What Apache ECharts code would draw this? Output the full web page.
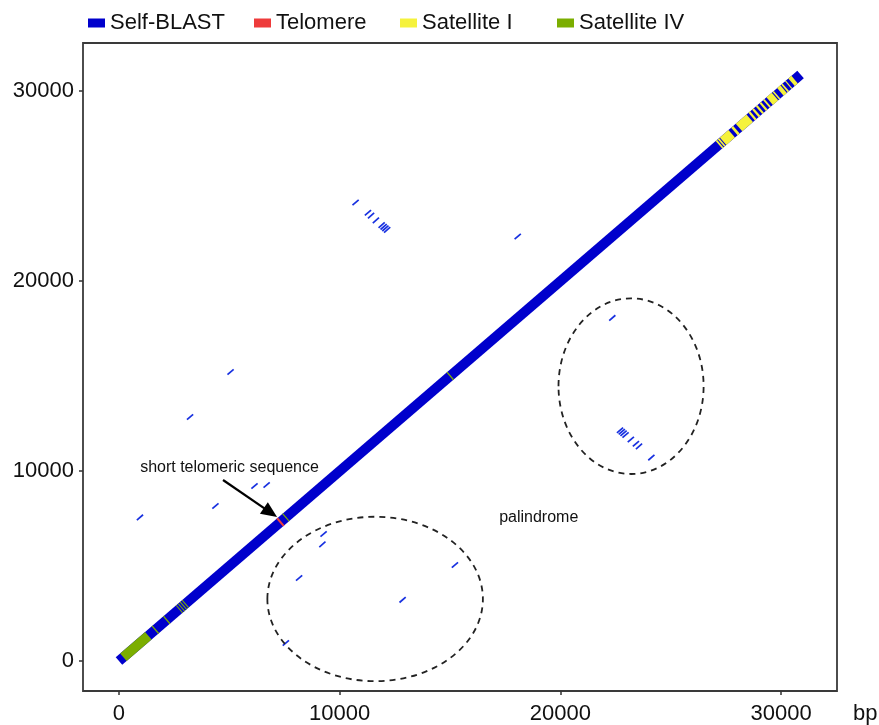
<!DOCTYPE html>
<html>
<head>
<meta charset="utf-8">
<script src="https://cdn.jsdelivr.net/npm/echarts@6/dist/echarts.min.js"></script>
<style>
  html, body { margin: 0; padding: 0; background: #fff; }
  #chart { width: 879px; height: 725px; }
</style>
</head>
<body>
<div id="chart"></div>
<script>
const FONT = '"Liberation Sans", Arial, Helvetica, sans-serif';

// Axis extents (bp) and labelled ticks
const xRange = [-1630, 32530];
const yRange = [-1580, 32540];
const tickValues = [0, 10000, 20000, 30000];
const xUnit = 'bp';

// Legend entries
const legendNames = ['Self-BLAST', 'Telomere', 'Satellite I', 'Satellite IV'];

// Whole sequence aligned against itself, [start, end] in bp
const selfBlastDiagonal = [[0, 30880]];

// Annotated intervals lying on the diagonal, [start, end] in bp
const telomereIntervals = [[7280, 7350]];
const satelliteIVIntervals = [
  [200, 1330], [1625, 1670], [2140, 2185],
  [2720, 2755], [2810, 2845], [2900, 2935], [2990, 3025],
  [7540, 7580], [14985, 15030]
];
const satelliteIIntervals = [
  [27180, 27240], [27275, 27335], [27370, 27760], [27880, 27975],
  [28090, 28575], [28665, 28741], [28831, 28908], [28998, 29073],
  [29163, 29239], [29329, 29390], [29480, 29720], [29760, 29815],
  [29965, 30110], [30150, 30210], [30320, 30360], [30470, 30610]
];

// Off-diagonal self-BLAST hits, [x1, y1, x2, y2] in bp
const repeatHits = [
  [10580, 24000, 10860, 24280],
  [11140, 23460, 11420, 23740],
  [11280, 23310, 11560, 23590],
  [11500, 23060, 11780, 23340],
  [11760, 22810, 12040, 23090],
  [11850, 22720, 12130, 23000],
  [11930, 22640, 12210, 22920],
  [12010, 22560, 12290, 22840],
  [17925, 22210, 18205, 22490],
  [4915, 15080, 5195, 15360],
  [3080, 12710, 3360, 12990],
  [6000, 9075, 6280, 9355],
  [6550, 9130, 6830, 9410],
  [4230, 8020, 4510, 8300],
  [810, 7420, 1090, 7700],
  [23980, 10570, 24260, 10850],
  [23280, 11300, 23560, 11580],
  [23420, 11160, 23700, 11440],
  [23050, 11520, 23330, 11800],
  [22560, 12010, 22840, 12290],
  [22640, 11930, 22920, 12210],
  [22720, 11850, 23000, 12130],
  [22810, 11760, 23090, 12040],
  [22210, 17925, 22490, 18205],
  [15080, 4915, 15360, 5195],
  [12710, 3080, 12990, 3360],
  [9075, 6000, 9355, 6280],
  [9130, 6550, 9410, 6830],
  [8020, 4230, 8300, 4510],
  [7420, 810, 7700, 1090]
];

// Annotations (bp coordinates)
const ellipses = [
  { center: [11605, 3265], rx: 4882, ry: 4329 },
  { center: [23200, 14471], rx: 3287, ry: 4624 }
];
const arrowFrom = [4714, 9531];
const arrowTo = [7162, 7583];
const telomereNote = { text: 'short telomeric sequence', at: [5009, 10163] };
const palindromeNote = { text: 'palindrome', at: [19016, 7530] };

const COLORS = {
  'Self-BLAST': '#0000CC',
  'Telomere': '#EE3B3B',
  'Satellite I': '#F5F23C',
  'Satellite IV': '#7BAE00'
};

// Intervals on the diagonal run from (start, start) to (end, end)
const onDiagonal = intervals => intervals.map(([s, e]) => [s, s, e, e]);

function segmentRenderer(width) {
  return function (params, api) {
    const p1 = api.coord([api.value(0), api.value(1)]);
    const p2 = api.coord([api.value(2), api.value(3)]);
    return {
      type: 'line',
      shape: { x1: p1[0], y1: p1[1], x2: p2[0], y2: p2[1] },
      style: { stroke: api.visual('color'), lineWidth: width, lineCap: 'butt' }
    };
  };
}

function segmentSeries(name, data, width, z, color) {
  return {
    type: 'custom',
    name: name,
    data: data,
    z: z,
    silent: true,
    clip: true,
    itemStyle: { color: color || COLORS[name] },
    encode: { x: [0, 2], y: [1, 3] },
    renderItem: segmentRenderer(width)
  };
}

const axisCommon = {
  type: 'value',
  axisLine: { show: false, onZero: false },
  splitLine: { show: false },
  axisTick: { show: true, customValues: tickValues, length: 4, lineStyle: { color: '#333', width: 1.5 } },
  axisLabel: {
    customValues: tickValues,
    formatter: v => String(v),
    fontFamily: FONT, fontSize: 22, color: '#111'
  }
};

const chart = echarts.init(document.getElementById('chart'), null, { renderer: 'canvas' });

const legendLeft = [83, 249, 395, 552];

chart.setOption({
  animation: false,
  backgroundColor: '#fff',
  grid: {
    left: 83, top: 43, width: 754, height: 648,
    show: true, borderColor: '#3a3a3a', borderWidth: 1.8,
    containLabel: false, outerBoundsMode: 'none'
  },
  legend: legendNames.map((name, i) => ({
    data: [name],
    left: legendLeft[i],
    top: 7,
    icon: 'rect',
    itemWidth: 17,
    itemHeight: 9,
    itemGap: 0,
    selectedMode: false,
    textStyle: { fontFamily: FONT, fontSize: 22, color: '#111' }
  })),
  xAxis: Object.assign({}, axisCommon, {
    min: xRange[0], max: xRange[1],
    axisLabel: Object.assign({}, axisCommon.axisLabel, { margin: 12 })
  }),
  yAxis: Object.assign({}, axisCommon, {
    min: yRange[0], max: yRange[1],
    axisLabel: Object.assign({}, axisCommon.axisLabel, { margin: 9 })
  }),
  series: [
    segmentSeries('Self-BLAST', onDiagonal(selfBlastDiagonal), 10, 2),
    segmentSeries('Self-BLAST', repeatHits, 1.7, 2, '#1730E0'),
    segmentSeries('Telomere', onDiagonal(telomereIntervals), 10, 4),
    segmentSeries('Satellite I', onDiagonal(satelliteIIntervals), 10, 3),
    segmentSeries('Satellite IV', onDiagonal(satelliteIVIntervals), 10, 4)
  ]
});

// Annotation layer: dashed ellipses, arrow, notes and the x unit
const toPx = p => chart.convertToPixel({ gridIndex: 0 }, p);
const graphics = [];

ellipses.forEach(e => {
  const c = toPx(e.center);
  const rxPx = Math.abs(toPx([e.center[0] + e.rx, e.center[1]])[0] - c[0]);
  const ryPx = Math.abs(toPx([e.center[0], e.center[1] + e.ry])[1] - c[1]);
  graphics.push({
    type: 'ellipse',
    shape: { cx: c[0], cy: c[1], rx: rxPx, ry: ryPx },
    style: { fill: null, stroke: '#222', lineWidth: 1.8, lineDash: [6, 5] },
    z: 10
  });
});

(function () {
  const a = toPx(arrowFrom);
  const b = toPx(arrowTo);
  const dx = b[0] - a[0], dy = b[1] - a[1];
  const len = Math.sqrt(dx * dx + dy * dy);
  const ux = dx / len, uy = dy / len;
  const headLen = 16, headHalf = 7;
  const base = [b[0] - ux * headLen, b[1] - uy * headLen];
  graphics.push({
    type: 'line',
    shape: { x1: a[0], y1: a[1], x2: base[0] + ux * 2, y2: base[1] + uy * 2 },
    style: { stroke: '#000', lineWidth: 2.2 },
    z: 10
  });
  graphics.push({
    type: 'polygon',
    shape: {
      points: [
        b,
        [base[0] - uy * headHalf, base[1] + ux * headHalf],
        [base[0] + uy * headHalf, base[1] - ux * headHalf]
      ]
    },
    style: { fill: '#000' },
    z: 10
  });
})();

[telomereNote, palindromeNote].forEach(n => {
  const p = toPx(n.at);
  graphics.push({
    type: 'text',
    x: p[0], y: p[1],
    style: { text: n.text, fontFamily: FONT, fontSize: 16, fill: '#111', align: 'center', verticalAlign: 'middle' },
    z: 10
  });
});

// Unit label to the right of the x-axis tick labels
const axisEnd = toPx([xRange[1], yRange[0]]);
graphics.push({
  type: 'text',
  x: axisEnd[0] + 16, y: axisEnd[1] + 23,
  style: { text: xUnit, fontFamily: FONT, fontSize: 22, fill: '#111', align: 'left', verticalAlign: 'middle' },
  z: 10
});

chart.setOption({ graphic: graphics });
</script>
</body>
</html>
